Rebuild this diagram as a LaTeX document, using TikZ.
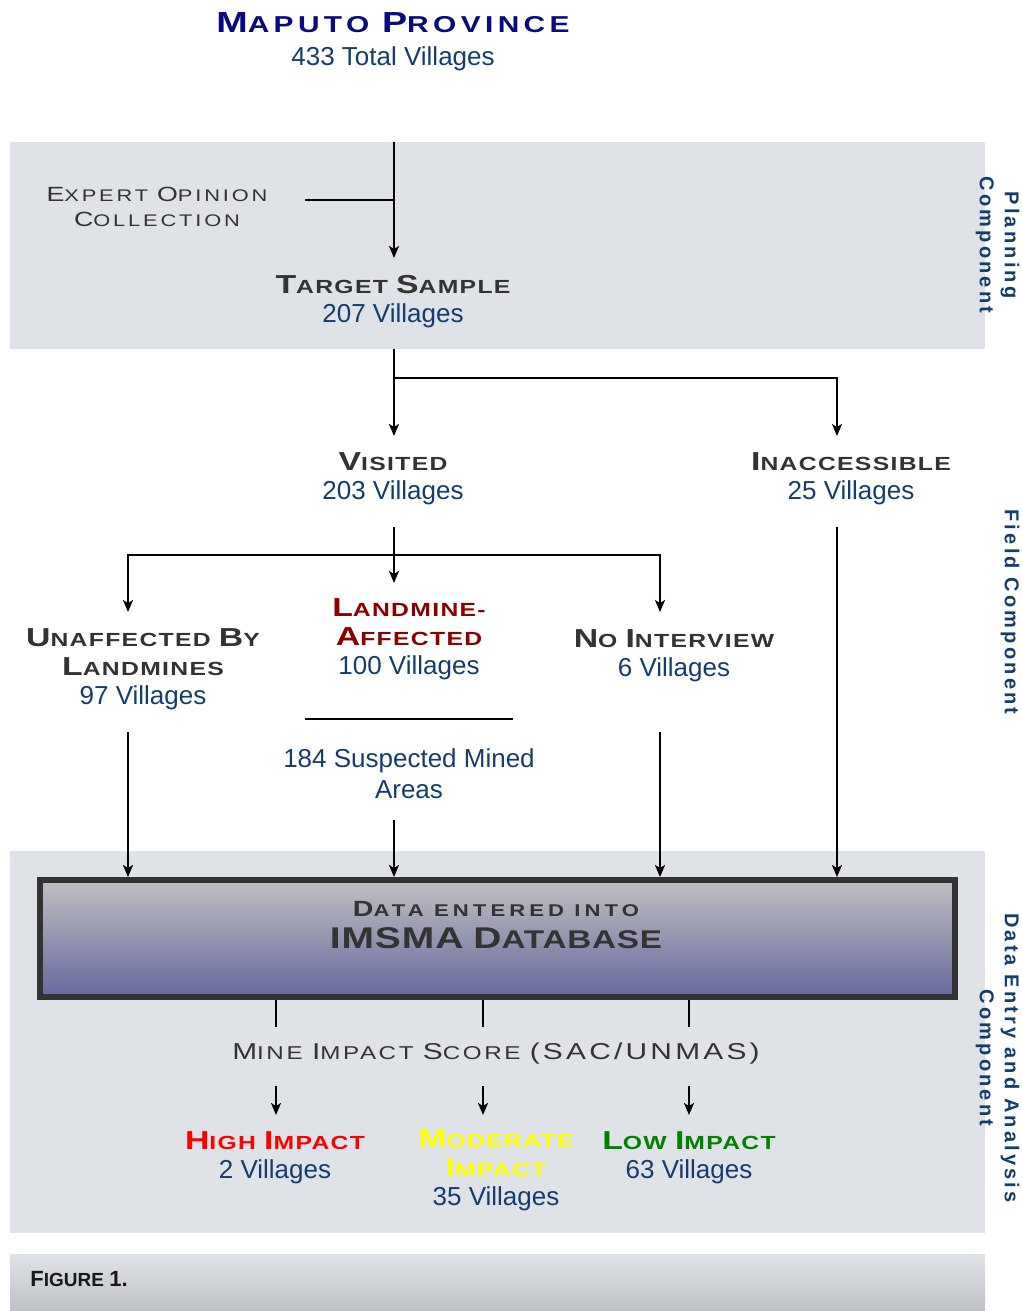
\documentclass[tikz,border=0pt]{standalone}
\usepackage{fontspec}
\setmainfont{Liberation Sans}
\newfontfamily\widefont[FakeStretch=1.3]{Liberation Sans}
\usepackage{tikz}
\usetikzlibrary{arrows.meta,shadings}
\usepackage{xcolor}
\definecolor{bandgrey}{RGB}{223,227,232}
\definecolor{capgrey}{RGB}{190,193,198}
\definecolor{hdgrey}{RGB}{51,51,51}
\definecolor{villblue}{RGB}{20,60,110}
\definecolor{provnavy}{RGB}{10,10,128}
\definecolor{minered}{RGB}{140,0,0}
\definecolor{highred}{RGB}{255,0,0}
\definecolor{modyellow}{RGB}{255,255,0}
\definecolor{lowgreen}{RGB}{0,130,0}
\definecolor{dbtop}{RGB}{192,192,194}
\definecolor{dbbottom}{RGB}{102,104,156}
\newcommand{\capsz}{13}
\newcommand{\capl}[2][\capsz]{{\fontsize{#1}{0}\selectfont #2}}
\newcommand{\vill}[1]{{\normalfont\fontsize{13}{14.5}\selectfont\color{villblue}#1}}
\tikzstyle{flowline} = [line width=1pt, black]
\tikzstyle{flowarrow} = [flowline, -{Stealth[length=6pt, width=5pt, inset=1.5pt]}]
\tikzstyle{heading} = [align=center, inner sep=0pt, text=hdgrey, font=\widefont\bfseries\fontsize{9.5}{14.5}\selectfont\addfontfeature{LetterSpace=7}]
\tikzstyle{lighthead} = [align=center, inner sep=0pt, text=hdgrey, font=\widefont\fontsize{8.4}{12.5}\selectfont\addfontfeature{LetterSpace=17}]
\tikzstyle{count} = [align=center, inner sep=0pt, text=villblue, font=\fontsize{13}{15.5}\selectfont]
\tikzstyle{sidelabel} = [align=center, inner sep=0pt, rotate=-90, text=villblue, font=\bfseries\fontsize{10}{12.5}\selectfont\addfontfeature{LetterSpace=16}]
\tikzstyle{dbbox} = [draw=hdgrey, line width=3pt, top color=dbtop, bottom color=dbbottom, minimum width=457.5pt, minimum height=58.5pt, inner sep=0pt]

\begin{document}
\begin{tikzpicture}[x=0.5pt, y=-0.5pt]
\useasboundingbox (0,0) rectangle (1022,1311);
% component bands
\fill[bandgrey] (10,142) rectangle (985,349);
\fill[bandgrey] (10,851) rectangle (985,1233);
\shade[top color=bandgrey, bottom color=capgrey] (10,1254) rectangle (985,1311);

% planning part
\node[heading, text=provnavy, font=\widefont\bfseries\fontsize{11.5}{16.5}\selectfont\addfontfeature{LetterSpace=19}] (province) at (393,42) {\capl[14.5]{M}APUTO \capl[14.5]{P}ROVINCE\\\vill{433 Total Villages}};
\node[lighthead, font=\widefont\fontsize{8.4}{12.5}\selectfont\addfontfeature{LetterSpace=17}\def\capsz{10.3}] (expert) at (157,207) {\capl{E}XPERT \capl{O}PINION\\\capl{C}OLLECTION};
\node[heading] (target) at (393,301.5) {\capl{T}ARGET \capl{S}AMPLE\\\vill{207 Villages}};

% field part
\node[heading] (visited) at (393,478.5) {\capl{V}ISITED\\\vill{203 Villages}};
\node[heading] (inacc) at (851,478.5) {\capl{I}NACCESSIBLE\\\vill{25 Villages}};
\node[heading] (unaff) at (143,669) {\capl{U}NAFFECTED \capl{B}Y\\\capl{L}ANDMINES\\\vill{97 Villages}};
\node[heading, text=minered] (affected) at (409,639) {\capl{L}ANDMINE-\\\capl{A}FFECTED\\\vill{100 Villages}};
\node[heading] (nointer) at (674,655.5) {\capl{N}O \capl{I}NTERVIEW\\\vill{6 Villages}};
\node[count] (mined) at (409,774) {184 Suspected Mined\\Areas};

% data entry part
\node[dbbox] (db) at (497.5,938.5) {};
\node[heading, font=\widefont\bfseries\fontsize{8.5}{16}\selectfont] (dbtext) at (496,925) {{\addfontfeature{LetterSpace=24}\capl[11]{D}ATA ENTERED INTO}\\{\addfontfeature{LetterSpace=3}\fontsize{12.8}{16}\selectfont\capl[15]{IMSMA} \capl[15]{D}ATABASE}};
\node[lighthead, font=\widefont\fontsize{9.3}{12.5}\selectfont\addfontfeature{LetterSpace=14}\def\capsz{11.5}] (score) at (496,1053.5) {\capl{M}INE \capl{I}MPACT \capl{S}CORE \capl{(SAC/UNMAS)}};
\node[heading, text=highred] (high) at (275,1157.5) {\capl{H}IGH \capl{I}MPACT\\\vill{2 Villages}};
\node[heading, text=modyellow] (moderate) at (496,1170) {\capl{M}ODERATE\\\capl{I}MPACT\\\vill{35 Villages}};
\node[heading, text=lowgreen] (low) at (689,1157.5) {\capl{L}OW \capl{I}MPACT\\\vill{63 Villages}};

% side labels
\node[sidelabel] (planlbl) at (997.5,245) {Planning\\Component};
\node[sidelabel] (fieldlbl) at (1010,612) {Field Component};
\node[sidelabel] (datalbl) at (997.5,1058) {Data Entry and Analysis\\Component};
\node[anchor=west, inner sep=0pt, text=black!90, font=\bfseries\fontsize{9.5}{12}\selectfont] (figcap) at (30,1279) {\capl[11]{F}IGURE \capl[11]{1.}};

% connectors
\coordinate (plantop) at (394,142);
\coordinate (expjoin) at (394,200);
\coordinate (expend) at (305,200);
\coordinate (tgtin) at (394,258);
\draw[flowarrow] (plantop) -- (tgtin);
\draw[flowline] (expend) -- (expjoin);
\coordinate (fieldtop) at (394,349);
\coordinate (split1) at (394,378);
\coordinate (visin) at (394,436);
\coordinate (inaccin) at (837,436);
\draw[flowarrow] (fieldtop) -- (visin);
\draw[flowarrow] (split1) -| (inaccin);
\coordinate (visout) at (394,527);
\coordinate (split2) at (394,555);
\coordinate (affin) at (394,583);
\coordinate (unaffin) at (128,612);
\coordinate (nointin) at (660,612);
\draw[flowarrow] (visout) -- (affin);
\draw[flowarrow] (split2) -| (unaffin);
\draw[flowarrow] (split2) -| (nointin);
\coordinate (mineleft) at (305,719);
\coordinate (mineright) at (513,719);
\draw[flowline] (mineleft) -- (mineright);
\coordinate (unaffout) at (128,732);
\coordinate (minedout) at (394,820);
\coordinate (nointout) at (660,732);
\coordinate (inaccout) at (837,527);
\foreach \src in {unaffout,minedout,nointout,inaccout}
  \draw[flowarrow] (\src) -- (\src |- db.north);
\foreach \cx/\nm in {276/high,483/moderate,689/low} {
  \coordinate (\nm top) at (\cx,1027);
  \coordinate (\nm tip) at (\cx,1115);
  \draw[flowline] (\nm top |- db.south) -- (\nm top);
  \draw[flowarrow] ([yshift=14.5pt]\nm tip) -- (\nm tip);
}
\end{tikzpicture}
\end{document}
